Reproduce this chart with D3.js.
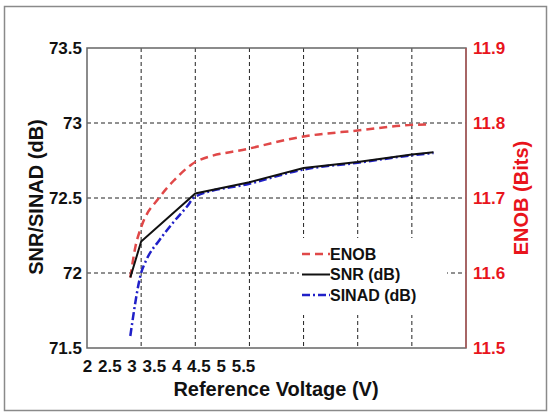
<!DOCTYPE html>
<html>
<head>
<meta charset="utf-8">
<script src="https://cdn.jsdelivr.net/npm/d3@7"></script>
<style>
  body { margin: 0; background: #fff; }
  text { font-family: "Liberation Sans", Arial, sans-serif; font-weight: bold; }
</style>
</head>
<body>
<div id="chart"></div>
<script>
// values
var snrV    = [2.4, 2.5, 3.0, 3.5, 4.0, 4.5, 5.0, 5.2]
var snr     = [71.97, 72.21, 72.53, 72.605, 72.70, 72.74, 72.79, 72.805]
var sinadV  = [2.4, 2.5, 2.55, 2.67, 2.8, 2.92, 3.0, 3.5, 4.0, 4.5, 5.0, 5.2]
var sinad   = [71.58, 72.0, 72.09, 72.22, 72.34, 72.44, 72.51, 72.595, 72.69, 72.735, 72.785, 72.80]
var enobV   = [2.4, 2.45, 2.5, 2.67, 2.8, 2.95, 3.0, 3.5, 4.0, 4.5, 5.0, 5.14]
var enob    = [11.594, 11.637, 11.661, 11.701, 11.723, 11.743, 11.748, 11.766, 11.782, 11.790, 11.7975, 11.798]

var xTickLabels = [2, 2.5, 3, 3.5, 4, 4.5, 5, 5.5]
var xGrid = [2.5, 3, 3.5, 4, 4.5, 5]
var leftTicks = [71.5, 72, 72.5, 73, 73.5]
var rightTicks = [11.5, 11.6, 11.7, 11.8, 11.9]
var legendNames = ["ENOB", "SNR (dB)", "SINAD (dB)"]

var W = 551, H = 415
var pL = 87, pR = 466, pT = 48, pB = 348
var red = "#e8141c"

var svg = d3.select("#chart").append("svg")
    .attr("width", W)
    .attr("height", H)

// outer figure border
svg.append("rect")
    .attr("x", 4.5).attr("y", 6.5)
    .attr("width", 542).attr("height", 404)
    .attr("fill", "#fff")
    .attr("stroke", "#8a8a8a")
    .attr("stroke-width", 1.5)

var x = d3.scaleLinear().domain([2, 5.5]).range([pL, pR])
var yL = d3.scaleLinear().domain([71.5, 73.5]).range([pB, pT])
var yR = d3.scaleLinear().domain([11.5, 11.9]).range([pB, pT])
// tick labels sit squeezed at the left, as in the original figure
var xLab = d3.scaleLinear().domain([2, 5.5]).range([pL, pL + 156])

// grid
svg.append("g").selectAll("line")
    .data(xGrid).enter().append("line")
    .attr("x1", d => x(d)).attr("x2", d => x(d))
    .attr("y1", pT).attr("y2", pB)
    .attr("stroke", "#222").attr("stroke-width", 1)
    .attr("stroke-dasharray", "4,3")

svg.append("g").selectAll("line")
    .data(leftTicks.slice(1, 4)).enter().append("line")
    .attr("x1", pL).attr("x2", pR)
    .attr("y1", d => yL(d)).attr("y2", d => yL(d))
    .attr("stroke", "#222").attr("stroke-width", 1)
    .attr("stroke-dasharray", "4,3")

// legend background hides the grid
svg.append("rect")
    .attr("x", 299).attr("y", 238)
    .attr("width", 148).attr("height", 77)
    .attr("fill", "#fff")

// lines
var lineL = d3.line().x(d => x(d[0])).y(d => yL(d[1])).curve(d3.curveMonotoneX)
var lineR = d3.line().x(d => x(d[0])).y(d => yR(d[1])).curve(d3.curveMonotoneX)

svg.append("path")
    .datum(d3.zip(enobV, enob))
    .attr("d", lineR)
    .attr("fill", "none")
    .attr("stroke", "#e04848")
    .attr("stroke-width", 2.5)
    .attr("stroke-dasharray", "8,5")

svg.append("path")
    .datum(d3.zip(sinadV, sinad))
    .attr("d", lineL)
    .attr("fill", "none")
    .attr("stroke", "#2020c8")
    .attr("stroke-width", 2.5)
    .attr("stroke-dasharray", "8,3,2,3")

svg.append("path")
    .datum(d3.zip(snrV, snr))
    .attr("d", d3.line().x(d => x(d[0])).y(d => yL(d[1])))
    .attr("fill", "none")
    .attr("stroke", "#111")
    .attr("stroke-width", 2)

// frame
svg.append("rect")
    .attr("x", pL).attr("y", pT)
    .attr("width", pR - pL).attr("height", pB - pT)
    .attr("fill", "none")
    .attr("stroke", "#666")
    .attr("stroke-width", 1.5)
svg.append("line")
    .attr("x1", pR).attr("x2", pR)
    .attr("y1", pT).attr("y2", pB)
    .attr("stroke", "#b05a5a").attr("stroke-width", 1.5)

// axes
var gx = svg.append("g")
    .attr("transform", "translate(0," + pB + ")")
    .call(d3.axisBottom(xLab).tickValues(xTickLabels).tickSize(0).tickPadding(12).tickFormat(d3.format("")))
gx.select(".domain").remove()
gx.selectAll("text").attr("font-size", 17).attr("fill", "#111")

var gl = svg.append("g")
    .attr("transform", "translate(" + pL + ",0)")
    .call(d3.axisLeft(yL).tickValues(leftTicks).tickSize(0).tickPadding(5).tickFormat(d3.format("")))
gl.select(".domain").remove()
gl.selectAll("text").attr("font-size", 17).attr("fill", "#111")

var gr = svg.append("g")
    .attr("transform", "translate(" + pR + ",0)")
    .call(d3.axisRight(yR).tickValues(rightTicks).tickSize(0).tickPadding(7).tickFormat(d3.format(".1f")))
gr.select(".domain").remove()
gr.selectAll("text").attr("font-size", 17).attr("fill", red)

// titles
svg.append("text")
    .attr("x", 276).attr("y", 396)
    .attr("text-anchor", "middle")
    .attr("font-size", 20)
    .attr("fill", "#111")
    .text("Reference Voltage (V)")

svg.append("text")
    .attr("transform", "translate(43,197) rotate(-90)")
    .attr("text-anchor", "middle")
    .attr("font-size", 20)
    .attr("fill", "#111")
    .text("SNR/SINAD (dB)")

svg.append("text")
    .attr("transform", "translate(528,198) rotate(-90)")
    .attr("text-anchor", "middle")
    .attr("font-size", 20)
    .attr("fill", red)
    .text("ENOB (Bits)")

// legend
var legStyles = [
  {stroke: "#e04848", dash: "8,5", w: 2.5},
  {stroke: "#111", dash: null, w: 2},
  {stroke: "#2020c8", dash: "8,3,2,3", w: 2.5}
]
var leg = svg.append("g").selectAll("g")
    .data(legendNames).enter().append("g")
    .attr("transform", (d, i) => "translate(302," + (254 + i * 20.5) + ")")

leg.append("line")
    .attr("x1", 0).attr("x2", 28)
    .attr("stroke", (d, i) => legStyles[i].stroke)
    .attr("stroke-width", (d, i) => legStyles[i].w)
    .attr("stroke-dasharray", (d, i) => legStyles[i].dash)

leg.append("text")
    .attr("x", 28).attr("dy", "0.35em")
    .attr("font-size", 16)
    .attr("fill", "#111")
    .text(d => d)
</script>
</body>
</html>
